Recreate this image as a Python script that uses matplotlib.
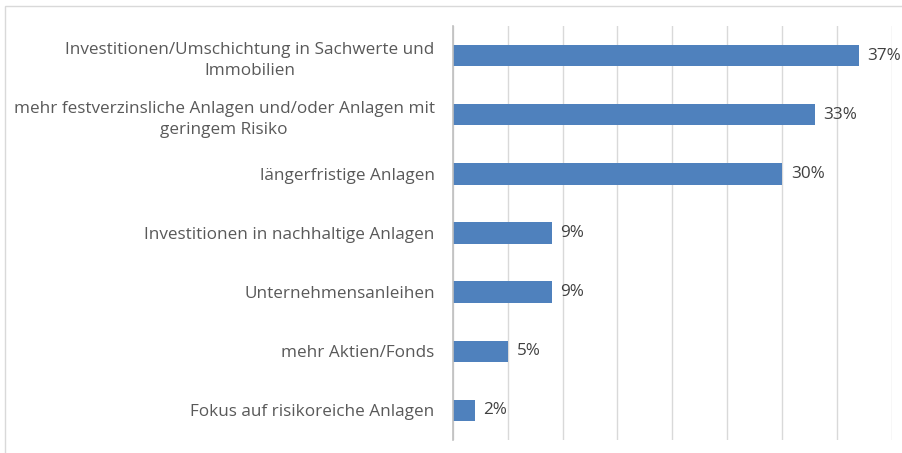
import matplotlib.pyplot as plt
from matplotlib.patches import Rectangle

plt.rcParams['font.family'] = ['Open Sans', 'DejaVu Sans']

labels = [
    "Investitionen/Umschichtung in Sachwerte und\nImmobilien",
    "mehr festverzinsliche Anlagen und/oder Anlagen mit\ngeringem Risiko",
    "längerfristige Anlagen",
    "Investitionen in nachhaltige Anlagen",
    "Unternehmensanleihen",
    "mehr Aktien/Fonds",
    "Fokus auf risikoreiche Anlagen",
]
values = [37, 33, 30, 9, 9, 5, 2]

fig = plt.figure(figsize=(9.02, 4.53), dpi=100)
ax = fig.add_axes([0.502, 0.0287, 0.4866, 0.9139])

# outer chart frame
fig.patches.append(Rectangle((0.006, -0.05), 1.1, 1.037, transform=fig.transFigure,
                             fill=False, edgecolor='#D9D9D9', linewidth=1.0))

ypos = list(range(len(values)))
ax.barh(ypos, values, height=0.36, color='#4F81BD', zorder=3)
for y, v in zip(ypos, values):
    ax.text(v + 0.8, y, f"{v}%", va='center', ha='left', fontsize=12.3, color='#404040')

ax.set_ylim(len(values) - 0.5, -0.5)
ax.set_xlim(0, 40)
ax.set_xticks(range(0, 41, 5))
ax.set_xticklabels([])
ax.tick_params(axis='x', length=0)
ax.grid(axis='x', color='#D9D9D9', linewidth=1.0, zorder=0)

ax.set_yticks(ypos)
ax.set_yticklabels(labels, fontsize=12.3, color='#595959', linespacing=1.45,
                   multialignment='center')
ax.tick_params(axis='y', length=0, pad=13)
for side in ['top', 'right', 'bottom']:
    ax.spines[side].set_visible(False)
ax.spines['left'].set_color('#BFBFBF')
ax.spines['left'].set_linewidth(1.2)
ax.spines['left'].set_zorder(4)

fig.savefig('out.png', dpi=100)
